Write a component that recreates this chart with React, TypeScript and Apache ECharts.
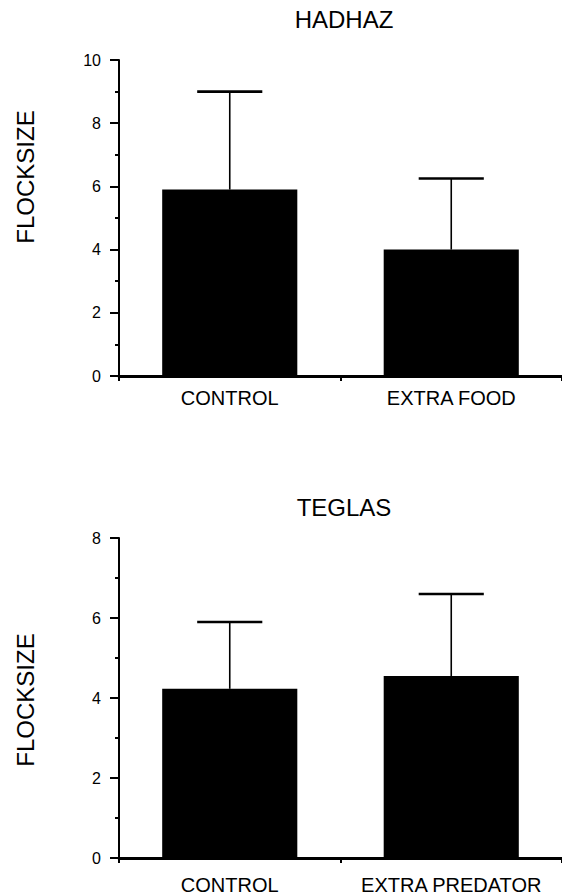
import React, { useEffect, useRef } from "react";
import * as echarts from "echarts";

// ---- data ----
const topTitle = "HADHAZ";
const bottomTitle = "TEGLAS";
const yName = "FLOCKSIZE";

const topCategories = ["CONTROL", "EXTRA FOOD"];
const topMeans = [5.9, 4.0];
const topUpper = [9.0, 6.25];

const bottomCategories = ["CONTROL", "EXTRA PREDATOR"];
const bottomMeans = [4.23, 4.55];
const bottomUpper = [5.9, 6.6];

const topYMax = 10;
const bottomYMax = 8;
const yInterval = 2;

const FONT = "'Liberation Sans', Arial, Helvetica, sans-serif";

function errorRender(params: any, api: any) {
  const idx = api.value(0);
  const lo = api.coord([idx, api.value(1)]);
  const hi = api.coord([idx, api.value(2)]);
  const half = api.size([1, 0])[0] * 0.147;
  return {
    type: "group",
    children: [
      {
        type: "line",
        shape: { x1: lo[0], y1: lo[1], x2: hi[0], y2: hi[1] },
        style: { stroke: "#000", lineWidth: 1.6 },
      },
      {
        type: "line",
        shape: { x1: hi[0] - half, y1: hi[1], x2: hi[0] + half, y2: hi[1] },
        style: { stroke: "#000", lineWidth: 2.6 },
      },
    ],
  };
}

function xAxisCfg(gridIndex: number, cats: string[], margin: number) {
  return {
    type: "category",
    gridIndex,
    data: cats,
    boundaryGap: true,
    axisLine: { show: true, lineStyle: { color: "#000", width: 2.8 } },
    axisTick: { show: true, length: 5, inside: false, lineStyle: { color: "#000", width: 2 } },
    axisLabel: { color: "#000", fontSize: 20, fontFamily: FONT, margin, interval: 0 },
    splitLine: { show: false },
  };
}

function yAxisCfg(gridIndex: number, max: number) {
  return {
    type: "value",
    gridIndex,
    min: 0,
    max,
    interval: yInterval,
    axisLine: { show: true, onZero: false, lineStyle: { color: "#000", width: 2 } },
    axisTick: { show: true, length: 9, lineStyle: { color: "#000", width: 2 } },
    minorTick: { show: true, splitNumber: 2, length: 4, lineStyle: { color: "#000", width: 2 } },
    axisLabel: { color: "#000", fontSize: 16, fontFamily: FONT, margin: 18 },
    splitLine: { show: false },
    minorSplitLine: { show: false },
  };
}

export default function App() {
  const ref = useRef<HTMLDivElement>(null);

  useEffect(() => {
    if (!ref.current) return;
    const chart = echarts.init(ref.current, null, { renderer: "svg" });

    const topErr = topCategories.map((_, i) => [i, topMeans[i], topUpper[i]]);
    const bottomErr = bottomCategories.map((_, i) => [i, bottomMeans[i], bottomUpper[i]]);

    const textStyle = (text: string, size: number) => ({
      text,
      font: `${size}px ${FONT}`,
      fill: "#000",
      textAlign: "center",
      textVerticalAlign: "middle",
      align: "center",
      verticalAlign: "middle",
    });

    chart.setOption({
      animation: false,
      backgroundColor: "#fff",
      grid: [
        { left: 119, top: 60, width: 450, height: 316 },
        { left: 119, top: 538, width: 450, height: 320 },
      ],
      xAxis: [xAxisCfg(0, topCategories, 12), xAxisCfg(1, bottomCategories, 17)],
      yAxis: [yAxisCfg(0, topYMax), yAxisCfg(1, bottomYMax)],
      graphic: [
        { type: "text", x: 344, y: 19, style: textStyle(topTitle, 24) },
        { type: "text", x: 344, y: 507, style: textStyle(bottomTitle, 24) },
        { type: "text", x: 25, y: 177, rotation: Math.PI / 2, style: textStyle(yName, 24) },
        { type: "text", x: 25, y: 700, rotation: Math.PI / 2, style: textStyle(yName, 24) },
      ],
      series: [
        {
          type: "bar",
          xAxisIndex: 0,
          yAxisIndex: 0,
          data: topMeans,
          barWidth: "61%",
          itemStyle: { color: "#000" },
        },
        {
          type: "custom",
          xAxisIndex: 0,
          yAxisIndex: 0,
          data: topErr,
          encode: { x: 0, y: [1, 2] },
          renderItem: errorRender,
          z: 3,
        },
        {
          type: "bar",
          xAxisIndex: 1,
          yAxisIndex: 1,
          data: bottomMeans,
          barWidth: "61%",
          itemStyle: { color: "#000" },
        },
        {
          type: "custom",
          xAxisIndex: 1,
          yAxisIndex: 1,
          data: bottomErr,
          encode: { x: 0, y: [1, 2] },
          renderItem: errorRender,
          z: 3,
        },
      ],
    });

    return () => chart.dispose();
  }, []);

  return (
    <div
      ref={ref}
      style={{ position: "fixed", left: 0, top: 0, width: 562, height: 895, background: "#fff" }}
    />
  );
}
